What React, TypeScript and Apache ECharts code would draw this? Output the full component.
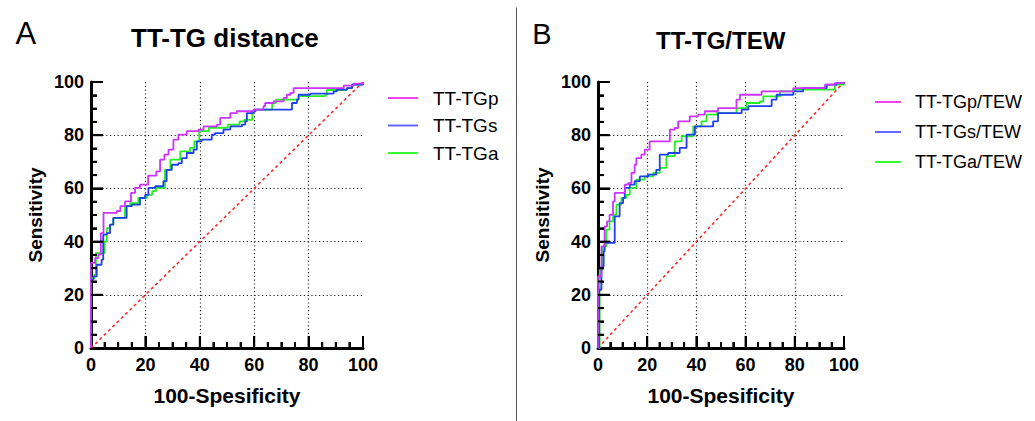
import React, { useEffect, useRef } from "react";
import * as echarts from "echarts";

// ---- Data (x = 100-Specificity, y = Sensitivity) ----
const ticks = [0, 20, 40, 60, 80, 100];
const majorTickValues = [20, 40, 60, 80, 100];
const minorTickValues = [5, 10, 15, 25, 30, 35, 45, 50, 55, 65, 70, 75, 85, 90, 95];

const distTGp: [number, number][] = [
  [0, 0], [0, 32.0], [1.5, 33.8], [2.7, 35.1], [3.6, 43.2], [4.6, 50.8], [9.5, 51.5], [10.8, 53.3],
  [12.5, 55.1], [14.7, 58.3], [16.2, 60.2], [18.0, 61.4], [21.0, 64.8], [24.0, 66.4], [25.4, 70.8],
  [27.0, 72.7], [28.5, 74.6], [30.3, 78.3], [32.1, 80.2], [35.2, 81.5], [39.5, 82.1], [41.4, 83.3],
  [46.3, 84.0], [47.5, 86.5], [51.2, 88.3], [53.6, 89.0], [59.8, 89.6], [63.4, 90.9], [64.0, 92.1],
  [67.1, 92.7], [70.8, 94.0], [72.0, 95.2], [73.3, 95.9], [74.5, 97.7], [92.9, 98.6], [96.6, 99.4],
  [100, 100],
];
const distTGs: [number, number][] = [
  [0, 0], [0, 25.7], [0.9, 26.9], [2.1, 31.3], [3.9, 33.2], [4.5, 42.6], [5.8, 43.2], [7.0, 46.4],
  [8.2, 48.9], [13.1, 53.3], [15.0, 53.9], [18.0, 56.4], [19.9, 57.6], [21.1, 60.2], [23.6, 60.8],
  [26.6, 62.7], [27.8, 67.0], [29.7, 68.9], [32.1, 69.5], [33.4, 71.4], [35.2, 73.3], [37.7, 74.6],
  [38.9, 77.7], [40.7, 78.3], [44.4, 80.2], [45.6, 80.8], [48.7, 82.1], [51.2, 83.3], [55.5, 84.0],
  [56.7, 85.2], [57.3, 88.3], [59.8, 89.0], [60.5, 89.6], [73.9, 92.1], [75.7, 93.4], [76.3, 95.2],
  [80.6, 95.6], [89.2, 96.5], [90.4, 97.1], [94.1, 97.7], [96.0, 99.0], [100, 100],
];
const distTGa: [number, number][] = [
  [0, 0], [0, 26.3], [1.2, 27.5], [1.8, 35.7], [5.0, 40.1], [5.8, 45.1], [7.0, 46.4], [8.2, 48.9],
  [12.5, 53.3], [14.4, 54.5], [17.4, 56.4], [20.5, 57.6], [22.5, 59.0], [23.9, 60.2], [27.2, 67.0],
  [29.2, 70.8], [32.8, 73.9], [36.4, 75.2], [38.0, 77.7], [39.8, 81.5], [43.3, 82.8], [50.3, 84.0],
  [54.6, 85.2], [56.4, 85.8], [59.3, 89.0], [60.0, 89.6], [66.6, 92.1], [68.0, 93.4], [76.3, 94.7],
  [86.1, 95.2], [86.7, 97.0], [94.1, 97.7], [96.0, 99.0], [100, 100],
];

const tewTGp: [number, number][] = [
  [0, 0], [0, 26.9], [1.4, 38.2], [2.7, 45.7], [3.7, 47.6], [4.7, 50.1], [6.1, 55.1], [6.8, 58.3],
  [10.9, 61.4], [12.2, 62.0], [13.6, 65.8], [14.9, 68.9], [15.6, 71.4], [17.6, 72.7], [19.0, 74.6],
  [21.0, 77.7], [29.2, 82.1], [31.2, 82.7], [32.6, 85.2], [37.3, 87.1], [40.7, 87.7], [43.4, 89.0],
  [48.8, 90.2], [56.3, 93.4], [57.7, 95.2], [66.5, 96.5], [79.4, 97.7], [92.3, 99.0], [96.3, 99.6],
  [100, 100],
];
const tewTGs: [number, number][] = [
  [0, 0], [0.4, 21.9], [1.4, 30.7], [2.3, 36.3], [2.7, 39.5], [6.8, 49.5], [8.8, 54.5], [10.2, 56.4],
  [10.9, 60.2], [12.9, 61.4], [14.9, 62.7], [17.0, 64.5], [20.4, 65.2], [23.7, 67.0], [25.1, 72.7],
  [28.5, 73.3], [33.2, 75.2], [36.0, 80.2], [39.4, 83.3], [46.8, 85.2], [48.8, 88.3], [58.4, 89.6],
  [61.1, 90.9], [70.6, 93.4], [72.6, 95.2], [79.4, 96.5], [83.4, 97.7], [93.0, 99.0], [97.0, 99.6],
  [100, 100],
];
const tewTGa: [number, number][] = [
  [0, 0], [0.7, 29.4], [2.0, 38.2], [3.4, 44.5], [4.7, 47.6], [6.1, 50.1], [7.5, 53.9], [9.5, 56.4],
  [11.5, 57.6], [12.9, 60.2], [15.6, 63.3], [19.0, 64.5], [22.4, 65.8], [25.1, 67.7], [27.8, 72.1],
  [31.2, 77.7], [34.0, 79.6], [38.7, 83.3], [42.1, 85.2], [44.1, 87.7], [48.2, 88.3], [56.3, 90.2],
  [60.4, 92.1], [65.8, 92.7], [67.2, 94.6], [74.0, 96.5], [79.4, 97.1], [96.3, 99.0], [100, 100],
];
const reference: [number, number][] = [[0, 0], [100, 100]];

const namesA = ["TT-TGp", "TT-TGs", "TT-TGa"];
const namesB = ["TT-TGp/TEW", "TT-TGs/TEW", "TT-TGa/TEW"];
const colors = ["#cc33ff", "#2040f0", "#22ee22"];
const legendColors = ["#ee44ee", "#6666ff", "#33ff33"];

const FONT = '"Liberation Sans", Arial, sans-serif';
const MAJOR_LEN = 12;
const MINOR_LEN = 6;

// ROC staircase: move across, then up, between consecutive read points
function stairs(pts: [number, number][]): [number, number][] {
  const out: [number, number][] = [pts[0]];
  for (let i = 1; i < pts.length; i++) {
    out.push([pts[i][0], pts[i - 1][1]]);
    out.push(pts[i]);
  }
  return out;
}

function axisCommon(gridIndex: number, isX: boolean) {
  return {
    type: "value",
    gridIndex,
    min: ticks[0],
    max: ticks[ticks.length - 1],
    interval: 20,
    name: isX ? "100-Spesificity" : "Sensitivity",
    nameLocation: "middle",
    nameGap: isX ? 37 : 46,
    nameTextStyle: {
      color: "#000",
      fontFamily: FONT,
      fontWeight: "bold",
      fontSize: isX ? 21 : 19,
    },
    axisLine: { show: true, onZero: false, lineStyle: { color: "#000", width: 3 } },
    axisTick: { show: true, inside: true, length: MAJOR_LEN, lineStyle: { color: "#000", width: 2 } },
    minorTick: { show: true, splitNumber: 4, length: MINOR_LEN, lineStyle: { color: "#000", width: 2 } },
    splitLine: {
      show: true,
      showMinLine: false,
      showMaxLine: false,
      lineStyle: { color: "#222", width: 1.2, type: [1.2, 2.6] },
    },
    axisLabel: {
      color: "#000",
      fontFamily: FONT,
      fontWeight: "bold",
      fontSize: 18,
      margin: isX ? 8 : 7,
    },
  };
}

function curve(name: string, data: [number, number][], color: string, idx: number) {
  return {
    name,
    type: "line",
    xAxisIndex: idx,
    yAxisIndex: idx,
    data: stairs(data),
    showSymbol: false,
    itemStyle: { color },
    lineStyle: { color, width: 1.8 },
  };
}

function diag(idx: number) {
  return {
    name: "ref" + idx,
    type: "line",
    xAxisIndex: idx,
    yAxisIndex: idx,
    data: reference,
    showSymbol: false,
    itemStyle: { color: "#ff2a2a" },
    lineStyle: { color: "#ff2a2a", width: 1.6, type: [3, 3] },
  };
}

function titleItem(text: string, left: number, top: number, fontSize: number, bold: boolean) {
  return {
    text,
    left,
    top,
    padding: 0,
    textStyle: { color: "#000", fontFamily: FONT, fontSize, fontWeight: bold ? "bold" : "normal" },
  };
}

function legendItem(names: string[], left: number, top: number, itemWidth: number, gap: number, fontSize: number, textPad: number) {
  return {
    orient: "vertical",
    left,
    top,
    padding: 0,
    itemWidth,
    itemHeight: 2,
    itemGap: gap,
    icon: "rect",
    selectedMode: false,
    data: names.map((n, i) => ({ name: n, itemStyle: { color: legendColors[i] } })),
    textStyle: { color: "#000", fontFamily: FONT, fontSize, padding: [0, 0, 0, textPad] },
  };
}

export default function App() {
  const ref = useRef<HTMLDivElement>(null);
  useEffect(() => {
    if (!ref.current) return;
    const chart = echarts.init(ref.current, null, { renderer: "svg" });
    const option: any = {
      animation: false,
      title: [
        titleItem("A", 15.6, 17.5, 31, false),
        titleItem("B", 532.3, 19.5, 29, false),
        titleItem("TT-TG distance", 131, 25, 26, true),
        titleItem("TT-TG/TEW", 656, 28, 24, true),
      ],
      legend: [
        legendItem(namesA, 388, 88.5, 30, 8.5, 19, 10),
        legendItem(namesB, 875, 93, 26, 12, 18, 9),
      ],
      grid: [
        { left: 91, top: 82, width: 272, height: 266 },
        { left: 598, top: 82, width: 246, height: 266 },
        { left: 516, top: 8, width: 1, height: 413 },
      ],
      xAxis: [
        axisCommon(0, true),
        axisCommon(1, true),
        { type: "value", gridIndex: 2, show: false, min: 0, max: 1 },
      ],
      yAxis: [
        axisCommon(0, false),
        axisCommon(1, false),
        {
          type: "value",
          gridIndex: 2,
          min: 0,
          max: 1,
          axisLine: { show: true, onZero: false, lineStyle: { color: "#555", width: 1 } },
          axisTick: { show: false },
          axisLabel: { show: false },
          splitLine: { show: false },
        },
      ],
      series: [
        diag(0),
        curve(namesA[2], distTGa, colors[2], 0),
        curve(namesA[1], distTGs, colors[1], 0),
        curve(namesA[0], distTGp, colors[0], 0),
        diag(1),
        curve(namesB[2], tewTGa, colors[2], 1),
        curve(namesB[1], tewTGs, colors[1], 1),
        curve(namesB[0], tewTGp, colors[0], 1),
      ],
    };
    chart.setOption(option);

    // inside tick marks, positioned through the axes' own scales (convertToPixel)
    const tickEls: any[] = [];
    [0, 1].forEach((g) => {
      const addTick = (v: number, len: number) => {
        const px = chart.convertToPixel({ gridIndex: g } as any, [v, 0]) as number[];
        const py = chart.convertToPixel({ gridIndex: g } as any, [0, v]) as number[];
        if (px && isFinite(px[0]) && isFinite(px[1])) {
          tickEls.push({
            type: "line",
            z: 10,
            silent: true,
            shape: { x1: px[0], y1: px[1], x2: px[0], y2: px[1] - len },
            style: { stroke: "#000", lineWidth: 2 },
          });
        }
        if (py && isFinite(py[0]) && isFinite(py[1])) {
          tickEls.push({
            type: "line",
            z: 10,
            silent: true,
            shape: { x1: py[0], y1: py[1], x2: py[0] + len, y2: py[1] },
            style: { stroke: "#000", lineWidth: 2 },
          });
        }
      };
      majorTickValues.forEach((v) => addTick(v, MAJOR_LEN));
      minorTickValues.forEach((v) => addTick(v, MINOR_LEN));
    });
    chart.setOption({ graphic: tickEls });

    return () => chart.dispose();
  }, []);
  return (
    <div
      ref={ref}
      style={{ position: "absolute", left: 0, top: 0, width: 1035, height: 421, background: "#fff" }}
    />
  );
}
